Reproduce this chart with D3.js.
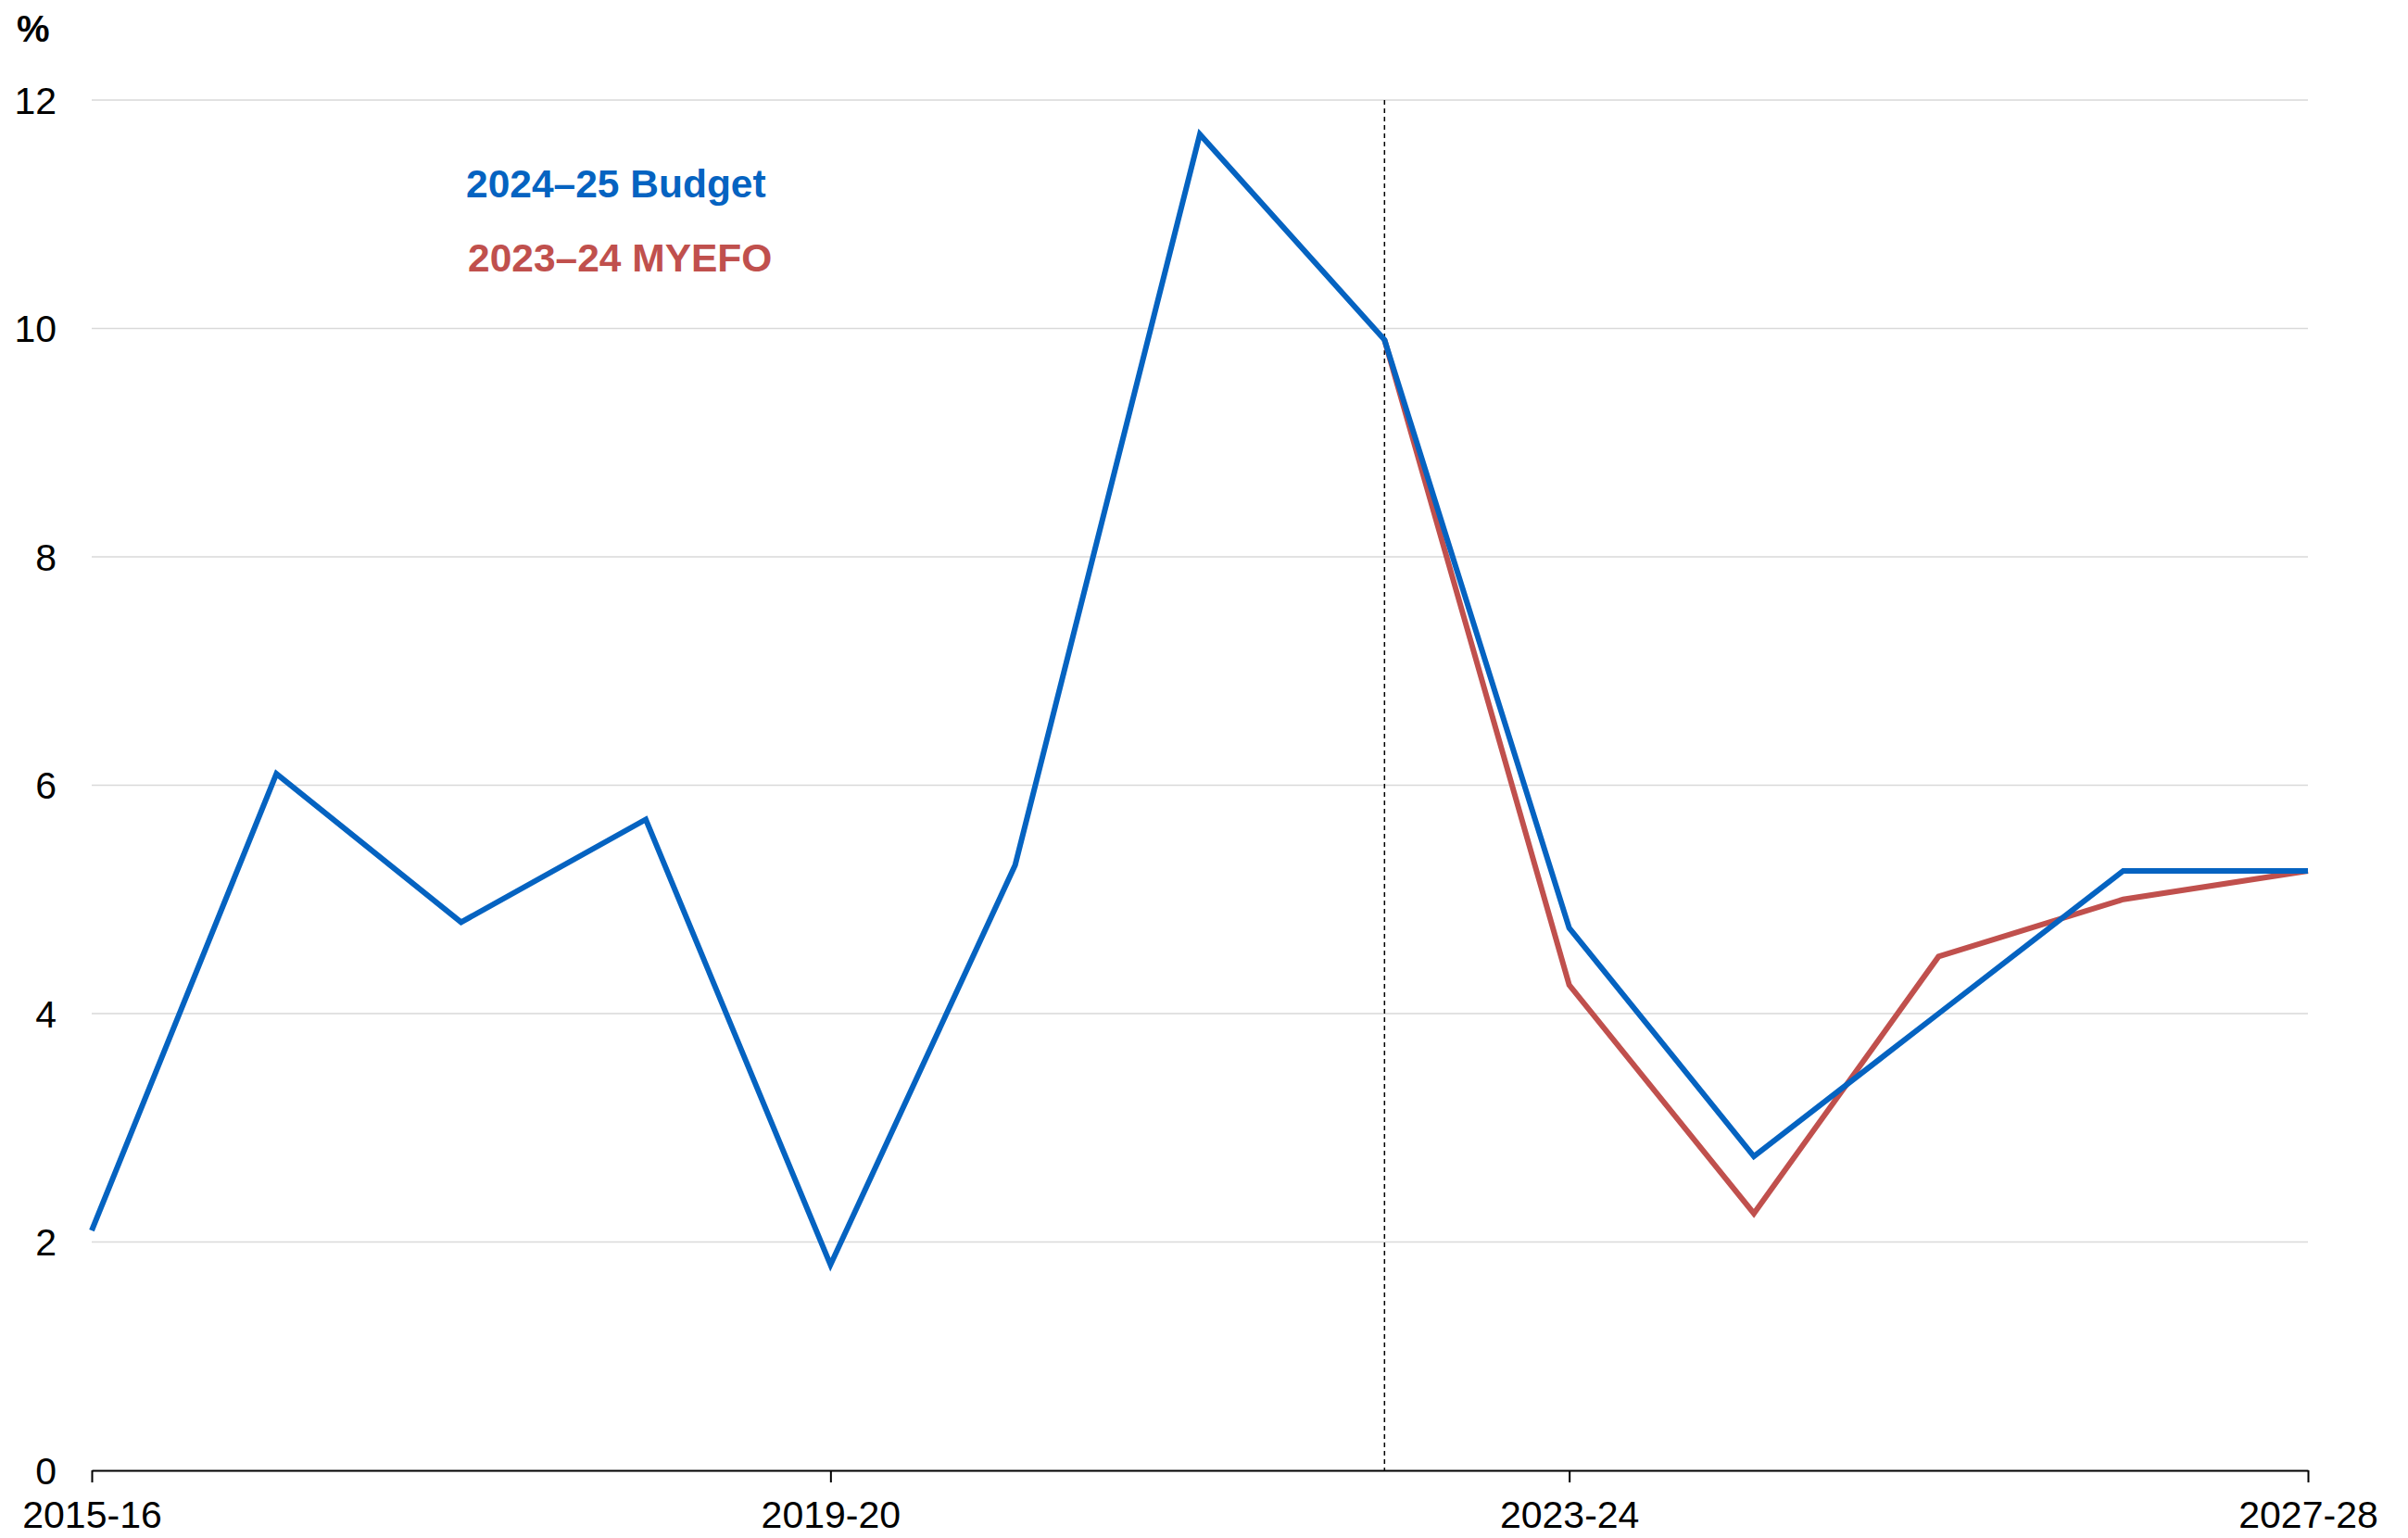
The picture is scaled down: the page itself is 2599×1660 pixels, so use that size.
<!DOCTYPE html>
<html><head><meta charset="utf-8">
<script src="https://cdn.jsdelivr.net/npm/d3@7"></script>
<style>html,body{margin:0;padding:0;background:#fff;}svg{display:block;}</style>
</head><body>
<script>
const years = ["2015-16","2016-17","2017-18","2018-19","2019-20","2020-21","2021-22","2022-23","2023-24","2024-25","2025-26","2026-27","2027-28"];
const budget = [2.1,6.1,4.8,5.7,1.8,5.3,11.7,9.9,4.75,2.75,4.0,5.25,5.25];
const myefoYears = ["2022-23","2023-24","2024-25","2025-26","2026-27","2027-28"];
const myefo = [9.9,4.25,2.25,4.5,5.0,5.25];
const yTicks = [0,2,4,6,8,10,12];
const xTickLabels = ["2015-16","2019-20","2023-24","2027-28"];
const dividerYear = "2022-23";
const seriesNames = ["2024\u201325 Budget","2023\u201324 MYEFO"];

const W=2599,H=1660;
const m={left:99,right:W-2491,top:108,bottom:H-1587};
const svg=d3.select("body").append("svg").attr("width",W).attr("height",H);
const x=d3.scalePoint().domain(years).range([m.left,W-m.right]);
const y=d3.scaleLinear().domain([0,12]).range([H-m.bottom,m.top]);
const font="Liberation Sans, Arial, sans-serif";

svg.append("g").selectAll("line").data(yTicks.filter(d=>d>0)).join("line")
 .attr("x1",m.left).attr("x2",W-m.right).attr("y1",d=>y(d)).attr("y2",d=>y(d))
 .attr("stroke","#d9d9d9").attr("stroke-width",1.5);

svg.append("g").selectAll("text").data(yTicks).join("text")
 .attr("x",61).attr("y",d=>y(d)).attr("dy","0.36em").attr("text-anchor","end")
 .attr("font-family",font).attr("font-size",41).attr("fill","#000").text(d=>d);

svg.append("text").attr("x",18).attr("y",45).attr("font-family",font).attr("font-weight","bold")
 .attr("font-size",40).text("%");

const xAxis=d3.axisBottom(x).tickValues(xTickLabels).tickSize(13).tickPadding(20).tickSizeOuter(0);
const gx=svg.append("g").attr("transform",`translate(0,${y(0)})`).call(xAxis);
gx.select(".domain").attr("stroke","#000").attr("stroke-width",2);
gx.selectAll(".tick line").attr("stroke","#000").attr("stroke-width",2);
gx.selectAll(".tick text").attr("font-family",font).attr("font-size",41).attr("fill","#000");

svg.append("line").attr("x1",x(dividerYear)).attr("x2",x(dividerYear)).attr("y1",y(12)).attr("y2",y(0))
 .attr("stroke","#000").attr("stroke-width",1.5).attr("stroke-dasharray","5,4");

const line=d3.line().x(d=>x(d[0])).y(d=>y(d[1]));
svg.append("path").datum(myefoYears.map((d,i)=>[d,myefo[i]])).attr("d",line)
 .attr("fill","none").attr("stroke","#C0504D").attr("stroke-width",6).attr("stroke-linejoin","miter");
svg.append("path").datum(years.map((d,i)=>[d,budget[i]])).attr("d",line)
 .attr("fill","none").attr("stroke","#0563C1").attr("stroke-width",6).attr("stroke-linejoin","miter");

svg.append("text").attr("x",503).attr("y",213).attr("font-family",font).attr("font-weight","bold")
 .attr("font-size",42.5).attr("fill","#0563C1").text(seriesNames[0]);
svg.append("text").attr("x",505).attr("y",293).attr("font-family",font).attr("font-weight","bold")
 .attr("font-size",42.5).attr("fill","#C0504D").text(seriesNames[1]);
</script>
</body></html>
